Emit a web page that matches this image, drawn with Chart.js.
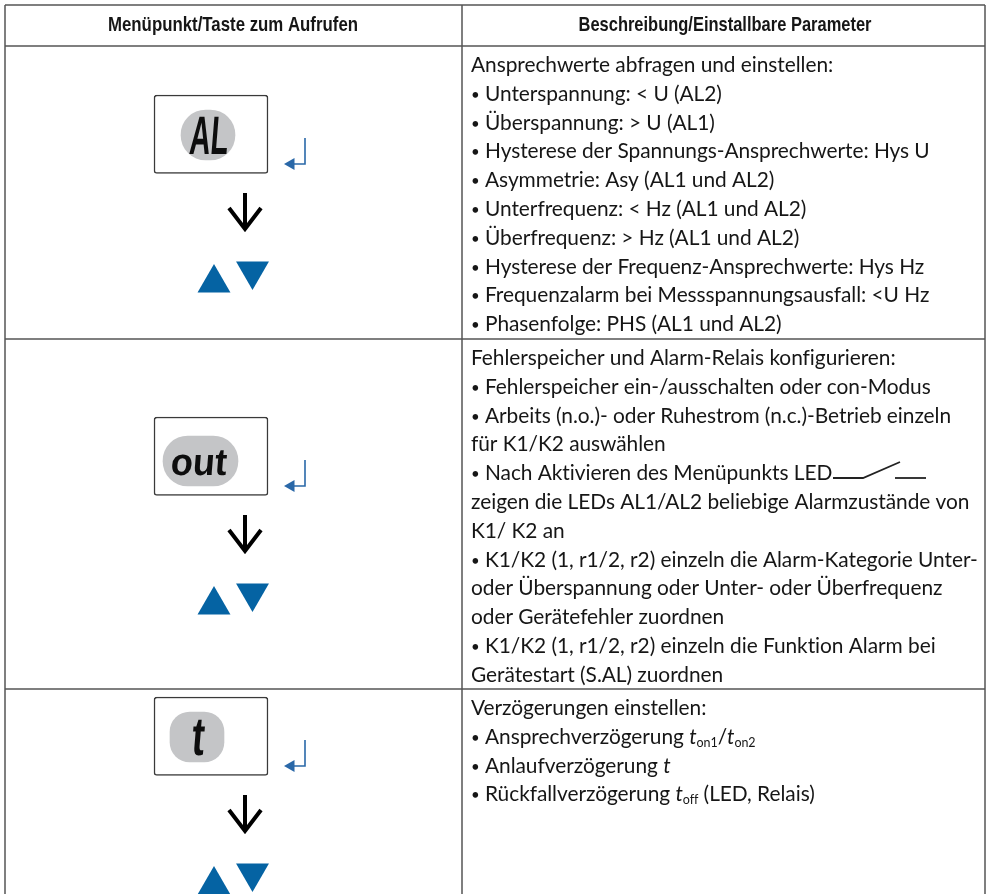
<!DOCTYPE html>
<html>
<head>
  <title>Menüpunkte</title>
  <script src="https://cdn.jsdelivr.net/npm/chart.js"></script>
  <style>
    html, body { margin: 0; padding: 0; background: #fff; }
    canvas { display: block; }
  </style>
</head>
<body>
  <canvas id="menuTable" width="988" height="894"></canvas>

  <script>
    const headers = ['Menüpunkt/Taste zum Aufrufen', 'Beschreibung/Einstallbare Parameter'];
    const row1Lines = [
      'Ansprechwerte abfragen und einstellen:',
      '• Unterspannung: < U (AL2)',
      '• Überspannung: > U (AL1)',
      '• Hysterese der Spannungs-Ansprechwerte: Hys U',
      '• Asymmetrie: Asy (AL1 und AL2)',
      '• Unterfrequenz: < Hz (AL1 und AL2)',
      '• Überfrequenz: > Hz (AL1 und AL2)',
      '• Hysterese der Frequenz-Ansprechwerte: Hys Hz',
      '• Frequenzalarm bei Messspannungsausfall: <U Hz',
      '• Phasenfolge: PHS (AL1 und AL2)'
    ];
    const row2Lines = [
      'Fehlerspeicher und Alarm-Relais konfigurieren:',
      '• Fehlerspeicher ein-/ausschalten oder con-Modus',
      '• Arbeits (n.o.)- oder Ruhestrom (n.c.)-Betrieb einzeln',
      'für K1/K2 auswählen',
      '• Nach Aktivieren des Menüpunkts LED',
      'zeigen die LEDs AL1/AL2 beliebige Alarmzustände von',
      'K1/ K2 an',
      '• K1/K2 (1, r1/2, r2) einzeln die Alarm-Kategorie Unter-',
      'oder Überspannung oder Unter- oder Überfrequenz',
      'oder Gerätefehler zuordnen',
      '• K1/K2 (1, r1/2, r2) einzeln die Funktion Alarm bei',
      'Gerätestart (S.AL) zuordnen'
    ];
    // *x* = kursiv, ~x~ = tiefgestellt
    const row3Lines = [
      'Verzögerungen einstellen:',
      '• Ansprechverzögerung *t*~on1~/*t*~on2~',
      '• Anlaufverzögerung *t*',
      '• Rückfallverzögerung *t*~off~ (LED, Relais)'
    ];
    const displayLabels = ['AL', 'out', 't'];

    const tableColumns = [5, 462, 985];
    const tableRows = [5, 46, 339, 689];
    const firstBaselines = [72, 365, 715];
    const boxTops = [95, 417, 697];

    const BLUE = '#0563a3';
    const BLUE_RETURN = '#2a68a8';

    function path(points, color, width) {
      return {
        type: 'line', data: points, borderColor: color, borderWidth: width,
        pointRadius: 0, tension: 0, fill: false, clip: false,
        borderCapStyle: 'butt', borderJoinStyle: 'miter', order: 1
      };
    }
    function blob(x, top, bottom, width, radius) {
      return {
        type: 'bar', data: [{ x: x, y: [top, bottom] }], barThickness: width, grouped: false,
        backgroundColor: '#c4c5c7', borderWidth: 0, borderRadius: radius, borderSkipped: false, order: 2
      };
    }
    function triangles(points, radius, rotation, color) {
      return {
        type: 'scatter', data: points, pointStyle: 'triangle', pointRadius: radius, rotation: rotation,
        backgroundColor: color, borderWidth: 0, clip: false, order: 0
      };
    }

    const datasets = [];

    // Tabellenlinien
    tableColumns.forEach(x => datasets.push(path([{ x: x, y: 5 }, { x: x, y: 894 }], '#555', 1.5)));
    tableRows.forEach(y => datasets.push(path([{ x: 5, y: y }, { x: 985, y: y }], '#555', 1.5)));

    // Display-Rahmen und graue Flächen
    datasets.push({
      type: 'bar', data: boxTops.map(t => ({ x: 211, y: [t, t + 78.5] })), barThickness: 114, grouped: false,
      backgroundColor: '#fff', borderColor: '#3a3a3a', borderWidth: 1.5, borderRadius: 3, borderSkipped: false, order: 3
    });
    datasets.push(blob(208, 110, 160, 54, 25));
    datasets.push(blob(200.5, 436, 486, 75, 25));
    datasets.push(blob(197, 712, 762, 54, 20));

    // Pfeile
    boxTops.forEach(t => {
      datasets.push(path([{ x: 305, y: t + 43 }, { x: 305, y: t + 69 }, { x: 290, y: t + 69 }], BLUE_RETURN, 1.6));
      datasets.push(path([{ x: 245, y: t + 98 }, { x: 245, y: t + 133 }], '#000', 4));
      datasets.push(path([{ x: 229, y: t + 113 }, { x: 245, y: t + 134 }, { x: 261, y: t + 113 }], '#000', 4));
    });
    datasets.push(triangles(boxTops.map(t => ({ x: 291, y: t + 69 })), 7, -90, BLUE_RETURN));
    datasets.push(triangles(boxTops.map(t => ({ x: 214, y: t + 188 })), 19, 0, BLUE));
    datasets.push(triangles(boxTops.map(t => ({ x: 252.5, y: t + 176 })), 19, 180, BLUE));

    // Schaltersymbol hinter "LED"
    datasets.push(path([{ x: 833, y: 478 }, { x: 863, y: 478 }, { x: 900, y: 462 }], '#222', 1.8));
    datasets.push(path([{ x: 895, y: 478 }, { x: 926, y: 478 }], '#222', 1.8));

    const BODY_FONT = '"Lato", "Noto Sans", sans-serif';
    const BODY_SIZE = 20.9;

    function drawRuns(ctx, line, x, y) {
      if (line.startsWith('• ')) {
        ctx.font = '15px ' + BODY_FONT;
        ctx.fillText('•', x, y - 1);
        x += 14;
        line = line.slice(2);
      }
      const parts = line.split(/(\*.+?\*|~.+?~)/).filter(Boolean);
      parts.forEach(part => {
        let text = part, font = BODY_SIZE + 'px ' + BODY_FONT, dy = 0;
        if (part[0] === '*') { text = part.slice(1, -1); font = 'italic ' + BODY_SIZE + 'px ' + BODY_FONT; }
        if (part[0] === '~') { text = part.slice(1, -1); font = '12.5px ' + BODY_FONT; dy = 3; }
        ctx.font = font;
        ctx.fillText(text, x, y + dy);
        x += ctx.measureText(text).width;
      });
    }

    const tableText = {
      id: 'tableText',
      afterDatasetsDraw(chart) {
        const ctx = chart.ctx, sx = chart.scales.x, sy = chart.scales.y;
        ctx.save();
        ctx.fillStyle = '#161616';
        ctx.textBaseline = 'alphabetic';

        // Kopfzeile
        ctx.font = 'bold 21px "Liberation Sans", sans-serif';
        ctx.textAlign = 'center';
        ctx.fillText(headers[0], sx.getPixelForValue(233), sy.getPixelForValue(31), 250);
        ctx.fillText(headers[1], sx.getPixelForValue(725), sy.getPixelForValue(31), 293);

        // Beschreibung
        ctx.textAlign = 'left';
        ctx.letterSpacing = '-0.05px';
        [row1Lines, row2Lines, row3Lines].forEach((lines, r) => {
          lines.forEach((line, i) => {
            drawRuns(ctx, line, sx.getPixelForValue(471), sy.getPixelForValue(firstBaselines[r] + i * 28.8));
          });
        });
        ctx.letterSpacing = '0px';

        // Display-Beschriftung
        const displayStyle = [
          { x: 208, y: 154, size: 54, scale: 0.54 },
          { x: 198, y: 475, size: 38, scale: 0.95 },
          { x: 197, y: 755, size: 54, scale: 0.7 }
        ];
        ctx.textAlign = 'center';
        ctx.fillStyle = '#0d0d0d';
        displayLabels.forEach((label, i) => {
          const s = displayStyle[i];
          ctx.save();
          ctx.translate(sx.getPixelForValue(s.x), sy.getPixelForValue(s.y));
          ctx.transform(s.scale, 0, -0.08, 1, 0, 0);
          ctx.font = 'bold ' + s.size + 'px "Liberation Sans", sans-serif';
          ctx.fillText(label, 0, 0);
          ctx.restore();
        });
        ctx.restore();
      }
    };

    new Chart(document.getElementById('menuTable').getContext('2d'), {
      type: 'bar',
      data: { datasets: datasets },
      options: {
        responsive: false,
        animation: false,
        events: [],
        layout: { padding: 0, autoPadding: false },
        plugins: { legend: { display: false }, tooltip: { enabled: false } },
        scales: {
          x: { type: 'linear', min: 0, max: 988, display: false, offset: false },
          y: { type: 'linear', min: 0, max: 894, reverse: true, display: false }
        }
      },
      plugins: [tableText]
    });
  </script>
</body>
</html>
